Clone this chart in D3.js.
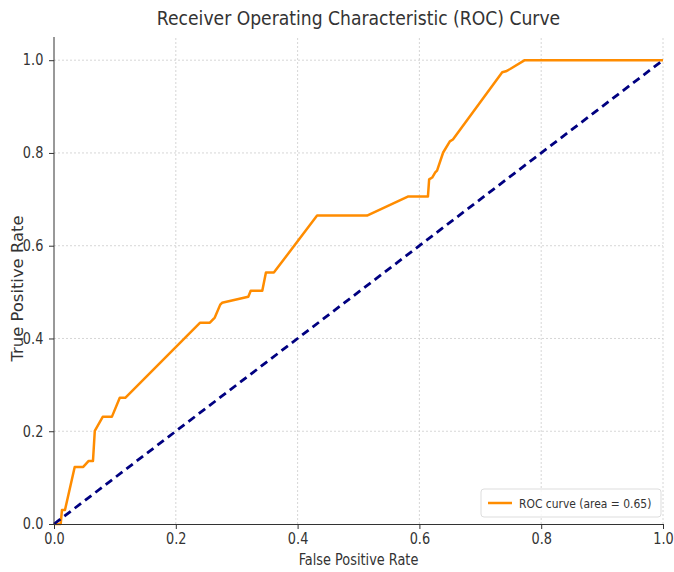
<!DOCTYPE html>
<html lang="en">
<head>
	<meta charset="UTF-8">
	<title>roc</title>
	<script src="https://cdn.jsdelivr.net/npm/d3@7"></script>
	<style>
		body { margin: 0; background: #fff; }
		text { font-family: 'DejaVu Sans', sans-serif; fill: #333; }
		.sq { transform-box: fill-box; transform-origin: center; transform: scaleX(0.86); }
		.sql { transform-box: fill-box; transform-origin: left; transform: scaleX(0.86); }
	</style>
</head>
<body>
<script>
	// ROC curve points
	let fpr = [0, 0.011, 0.013, 0.018, 0.034, 0.048, 0.057, 0.064, 0.067, 0.080, 0.095, 0.108, 0.117,
		0.240, 0.256, 0.264, 0.273, 0.276, 0.319, 0.323, 0.342, 0.348, 0.361, 0.432, 0.514, 0.581,
		0.614, 0.616, 0.621, 0.626, 0.629, 0.639, 0.650, 0.655, 0.736, 0.742, 0.749, 0.773, 1.0]
	let tpr = [0, 0, 0.030, 0.030, 0.123, 0.123, 0.136, 0.136, 0.201, 0.231, 0.231, 0.272, 0.272,
		0.434, 0.434, 0.445, 0.473, 0.477, 0.490, 0.503, 0.503, 0.542, 0.542, 0.665, 0.665, 0.706,
		0.706, 0.743, 0.747, 0.758, 0.762, 0.801, 0.825, 0.829, 0.974, 0.976, 0.981, 1.0, 1.0]
	let chance = [0, 1]
	let xTicks = [0, 0.2, 0.4, 0.6, 0.8, 1.0]
	let yTicks = [0, 0.2, 0.4, 0.6, 0.8, 1.0]
	let aucLabel = 'ROC curve (area = 0.65)'

	let width = 674,
		height = 572;
	let m = { left: 54, right: 11, top: 37, bottom: 48 }

	let svg = d3.select('body').append('svg')
		.attr('width', width)
		.attr('height', height)

	let x = d3.scaleLinear().domain([0, 1]).range([m.left, width - m.right])
	let y = d3.scaleLinear().domain([0, 1.05]).range([height - m.bottom, m.top])

	// grid
	svg.append('g').selectAll('line')
		.data(xTicks.slice(1))
		.enter().append('line')
		.attr('x1', d => x(d)).attr('x2', d => x(d))
		.attr('y1', y(0)).attr('y2', y(1.05))
		.attr('stroke', '#ccc').attr('stroke-width', 0.8).attr('stroke-dasharray', '2,2')
	svg.append('g').selectAll('line')
		.data(yTicks.slice(1))
		.enter().append('line')
		.attr('y1', d => y(d)).attr('y2', d => y(d))
		.attr('x1', x(0)).attr('x2', x(1))
		.attr('stroke', '#ccc').attr('stroke-width', 0.8).attr('stroke-dasharray', '2,2')

	let line = d3.line().x(d => x(d[0])).y(d => y(d[1]))

	svg.append('path')
		.datum(fpr.map((d, i) => [d, tpr[i]]))
		.attr('d', line)
		.attr('fill', 'none')
		.attr('stroke', '#ff8c00')
		.attr('stroke-width', 2.5)
		.attr('stroke-linejoin', 'round')

	svg.append('path')
		.datum(chance.map(d => [d, d]))
		.attr('d', line)
		.attr('fill', 'none')
		.attr('stroke', '#000080')
		.attr('stroke-width', 2.8)
		.attr('stroke-dasharray', '8,5')

	// axes
	let gx = svg.append('g')
		.attr('transform', `translate(0,${y(0)})`)
		.call(d3.axisBottom(x).tickValues(xTicks).tickFormat(d3.format('.1f')).tickSizeOuter(0).tickSize(5).tickPadding(4))
	let gy = svg.append('g')
		.attr('transform', `translate(${x(0)},0)`)
		.call(d3.axisLeft(y).tickValues(yTicks).tickFormat(d3.format('.1f')).tickSizeOuter(0).tickSize(5).tickPadding(4))
	gy.select('.domain').attr('d', `M0,${y(0)}V${y(1.05)}`)
	;[gx, gy].forEach(g => {
		g.select('.domain').attr('stroke', '#333').attr('stroke-width', 1)
		g.selectAll('.tick line').attr('stroke', '#333')
		g.selectAll('.tick text').attr('font-size', 15).attr('class', 'sq')
			.attr('font-family', 'DejaVu Sans').attr('fill', '#333')
	})

	// titles
	svg.append('text')
		.attr('class', 'sq')
		.attr('x', (x(0) + x(1)) / 2).attr('y', 25)
		.attr('text-anchor', 'middle')
		.attr('font-size', 20)
		.text('Receiver Operating Characteristic (ROC) Curve')
	svg.append('text')
		.attr('class', 'sq')
		.attr('x', (x(0) + x(1)) / 2).attr('y', 565)
		.attr('text-anchor', 'middle')
		.attr('font-size', 15)
		.text('False Positive Rate')
	svg.append('text')
		.attr('transform', `translate(23,${(y(0) + y(1.05)) / 2 + 8}) rotate(-90)`)
		.attr('text-anchor', 'middle')
		.attr('font-size', 16)
		.attr('textLength', 146).attr('lengthAdjust', 'spacingAndGlyphs')
		.text('True Positive Rate')

	// legend
	let lg = svg.append('g').attr('transform', 'translate(481,489)')
	lg.append('rect')
		.attr('width', 180).attr('height', 28).attr('rx', 3)
		.attr('fill', '#fff').attr('fill-opacity', 0.8)
		.attr('stroke', '#ddd')
	lg.append('line')
		.attr('x1', 7).attr('x2', 31).attr('y1', 14).attr('y2', 14)
		.attr('stroke', '#ff8c00').attr('stroke-width', 2.5)
	lg.append('text')
		.attr('class', 'sql')
		.attr('x', 38).attr('y', 19)
		.attr('font-size', 12.5)
		.text(aucLabel)
</script>
</body>
</html>
